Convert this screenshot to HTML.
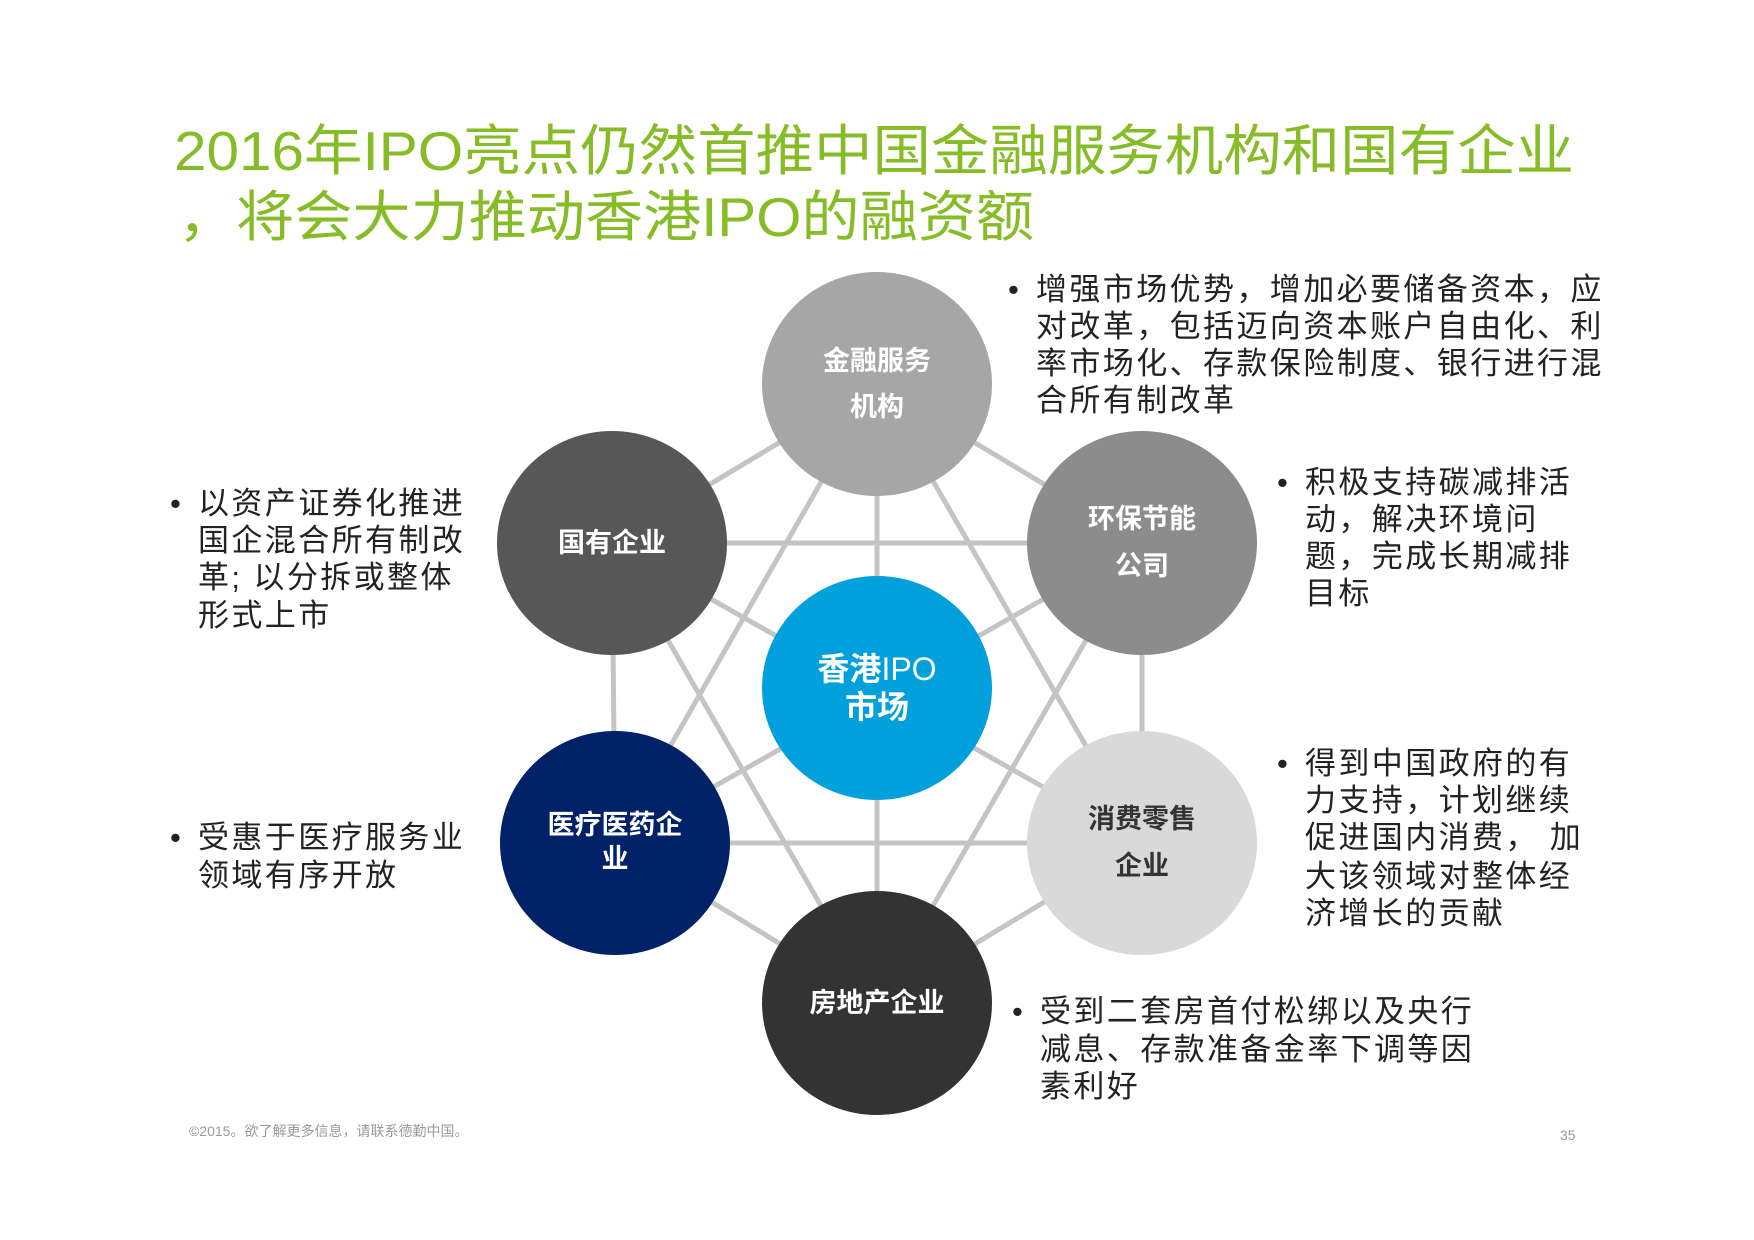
<!DOCTYPE html>
<html><head><meta charset="utf-8"><style>
html,body{margin:0;padding:0;background:#fff}
svg{display:block}
text{font-family:"Liberation Sans","Noto Sans CJK SC",sans-serif}
</style></head><body>
<svg width="1754" height="1240" viewBox="0 0 1754 1240" xmlns="http://www.w3.org/2000/svg">
<rect width="1754" height="1240" fill="#fff"/>
<g fill="#86bc25" font-size="55">
<text x="174" y="170" textLength="1400" lengthAdjust="spacingAndGlyphs">2016年IPO亮点仍然首推中国金融服务机构和国有企业</text>
<text x="178" y="236" textLength="856" lengthAdjust="spacingAndGlyphs">，将会大力推动香港IPO的融资额</text>
</g>
<g transform="translate(-4,0)">
<g stroke="#c4c4c4" stroke-width="5">
<line x1="881" y1="384" x2="616" y2="543"/><line x1="881" y1="384" x2="1146" y2="543"/>
<line x1="616" y1="543" x2="619" y2="843"/><line x1="1146" y1="543" x2="1146" y2="843"/>
<line x1="619" y1="843" x2="881" y2="1003"/><line x1="1146" y1="843" x2="881" y2="1003"/>
<line x1="881" y1="384" x2="881" y2="1003"/><line x1="616" y1="543" x2="1146" y2="843"/><line x1="1146" y1="543" x2="619" y2="843"/>
<line x1="881" y1="384" x2="619" y2="843"/><line x1="881" y1="384" x2="1146" y2="843"/>
<line x1="616" y1="543" x2="1146" y2="543"/><line x1="619" y1="843" x2="1146" y2="843"/>
<line x1="616" y1="543" x2="881" y2="1003"/><line x1="1146" y1="543" x2="881" y2="1003"/>
</g>
<ellipse cx="881" cy="384" rx="115" ry="112" fill="#a6a6a6"/>
<ellipse cx="616" cy="543" rx="115" ry="112" fill="#575757"/>
<ellipse cx="1146" cy="543" rx="115" ry="112" fill="#8c8c8c"/>
<ellipse cx="881" cy="688" rx="115" ry="112" fill="#00a0dc"/>
<ellipse cx="619" cy="843" rx="115" ry="112" fill="#012169"/>
<ellipse cx="1146" cy="843" rx="115" ry="112" fill="#d9d9d9"/>
<ellipse cx="881" cy="1003" rx="115" ry="112" fill="#333333"/>
<g fill="#fff" font-size="27" font-weight="bold" text-anchor="middle">
<text x="881" y="370">金融服务</text><text x="881" y="416">机构</text>
<text x="616" y="552">国有企业</text>
<text x="1146" y="528">环保节能</text><text x="1146" y="575">公司</text>
<text x="619" y="834">医疗医药企</text><text x="619" y="868">业</text>
<text x="881" y="1012">房地产企业</text>
</g>
<g fill="#333" font-size="27" font-weight="bold" text-anchor="middle">
<text x="1146" y="828">消费零售</text><text x="1146" y="875">企业</text>
</g>
<g fill="#fff" font-size="32" text-anchor="middle">
<text x="881" y="680"><tspan font-weight="bold">香港</tspan>IPO</text>
<text x="881" y="718" font-weight="bold">市场</text>
</g>
</g>
<g fill="#222" font-size="31" letter-spacing="2.4">
<text x="1008" y="300">•</text>
<text x="1036" y="300">增强市场优势，增加必要储备资本，应</text>
<text x="1036" y="337">对改革，包括迈向资本账户自由化、利</text>
<text x="1036" y="374">率市场化、存款保险制度、银行进行混</text>
<text x="1036" y="411">合所有制改革</text>
<text x="170" y="514">•</text>
<text x="198" y="514">以资产证券化推进</text>
<text x="198" y="551">国企混合所有制改</text>
<text x="198" y="588">革; 以分拆或整体</text>
<text x="198" y="626">形式上市</text>
<text x="1277" y="493">•</text>
<text x="1305" y="493">积极支持碳减排活</text>
<text x="1305" y="530">动，解决环境问</text>
<text x="1305" y="567">题，完成长期减排</text>
<text x="1305" y="604">目标</text>
<text x="1277" y="774">•</text>
<text x="1305" y="774">得到中国政府的有</text>
<text x="1305" y="811">力支持，计划继续</text>
<text x="1305" y="848">促进国内消费， 加</text>
<text x="1305" y="887">大该领域对整体经</text>
<text x="1305" y="924">济增长的贡献</text>
<text x="170" y="848">•</text>
<text x="198" y="848">受惠于医疗服务业</text>
<text x="198" y="886">领域有序开放</text>
<text x="1012" y="1022">•</text>
<text x="1040" y="1022">受到二套房首付松绑以及央行</text>
<text x="1040" y="1060">减息、存款准备金率下调等因</text>
<text x="1040" y="1097">素利好</text>
</g>
<text x="189" y="1136" font-size="14" fill="#999">©2015。欲了解更多信息，请联系德勤中国。</text>
<text x="1560" y="1140" font-size="14" fill="#999">35</text>
</svg>
</body></html>
